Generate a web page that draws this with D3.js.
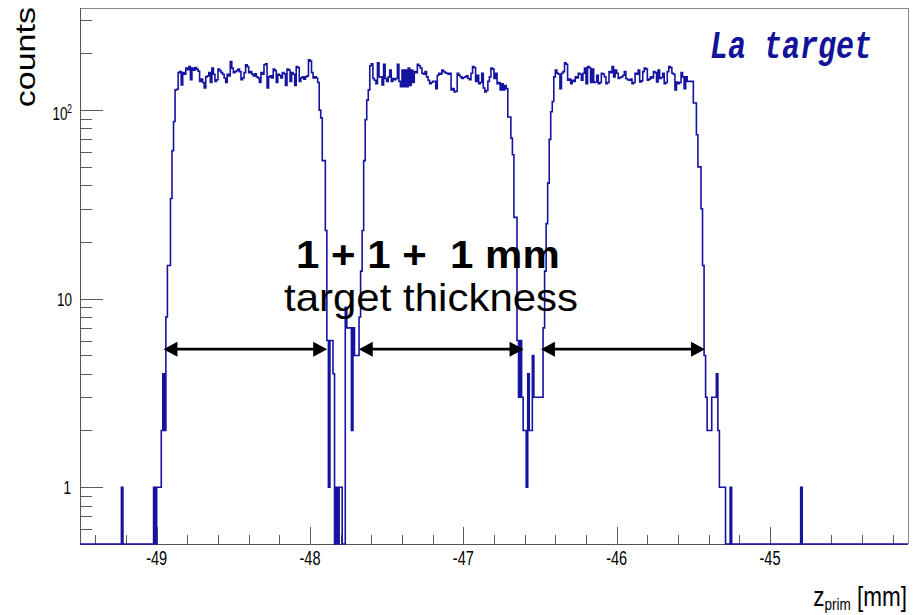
<!DOCTYPE html>
<html>
<head>
<meta charset="utf-8">
<script src="https://cdn.jsdelivr.net/npm/d3@7"></script>
<style>
  html, body { margin: 0; padding: 0; background: #ffffff; }
  svg { display: block; }
  text { font-family: "Liberation Sans", Arial, Helvetica, sans-serif; }
  text.mono { font-family: "Liberation Mono", "DejaVu Sans Mono", "Courier New", monospace; }
</style>
</head>
<body>
<svg id="chart" width="913" height="615"></svg>
<script>
// ---- histogram definition: z_prim, 0.01 mm bins starting at -49.5 mm ----
const binLow = -49.5;
const binWidth = 0.01;

// counts per bin, split by region along z
const leadCounts = [
  0,0,0,0,0,0,0,0,0,0, 0,0,0,0,0,0,0,0,0,0, 0,0,0,0,0,0,0,
  1,
  0,0,0,0,0,0,0,0,0,0, 0,0,0,0,0,0,0,0,0,0,
  1,0,1,1,1,2,4,2,8,15,15,34,61,87,128
];
const target1Counts = [
  129,158,160,136,158,155,167,164,170,145,167,163,168,165,161,142,146,140,131,150,
  152,158,140,167,155,142,145,165,162,158,155,148,140,155,152,181,167,158,160,162,
  165,160,145,148,158,174,170,158,160,155,152,156,150,148,140,158,155,174,176,131,
  150,152,148,165,162,140,155,153,148,158,156,135,165,163,142,158,155,135,170,168,
  142,148,150,146,150,152,185,182,158,148,150,148,140
];
const gap1Counts = [
  100,91,54,54,23,6,1,6,6,4,0,1,0,1,1,0,0,9,7,7,7,2,7,5,5,5,8,14,23,54,89,113,128
];
const target2Counts = [
  172,176,147,144,138,178,150,150,136,175,147,142,150,163,142,147,145,147,175,142,
  133,163,133,163,133,167,135,163,140,160,158,175,172,167,157,155,160,150,144,138,
  140,142,142,130,153,157,155,163,160,158,157,155,157,128,130,125,126,157,153,150,
  147,149,150,152,147,145,157,170,168,142,153,138,140,157,131,125,127,142,150,167,
  165,147,157,138,140,128,138,128,135,130
];
const gap2Counts = [
  92,92,71,58,27,27,6,3,6,3,2,2,1,4,2,2,5,3,3,3,3,3,3,7,14,25,41,70,98,111
];
const target3Counts = [
  150,163,157,155,130,157,160,178,175,144,146,138,144,142,150,148,157,155,144,157,
  167,138,170,168,140,165,140,141,153,138,140,157,155,150,138,140,160,158,170,150,
  163,157,147,149,150,153,160,147,145,144,146,138,140,157,155,163,141,143,160,167,
  165,144,146,150,148,160,158,141,163,147,149,157,138,140,160,170,168,157,155,128,
  141,138,140,158,150,130,150,142,142,142,142
];
const tailCounts = [
  109,109,74,50,50,30,15,5,3,2,2,2,3,3,3,4,2,1,1,1,1,0,0,0,1,
  0,0,0,0,0,0,0,0,0,0, 0,0,0,0,0,0,0,0,0,0, 0,0,0,0,0,0,0,0,0,0, 0,0,0,0,0,0,0,0,0,0, 0,0,0,0,0,
  1,
  0,0,0,0,0,0,0,0,0,0, 0,0,0,0,0,0,0,0,0,0, 0,0,0,0,0,0,0,0,0,0,
  0,0,0,0,0,0,0,0,0,0, 0,0,0,0,0,0,0,0,0,0, 0,0,0,0,0,0,0,0,0,0, 0,0,0,0,0,0,0,0,0
];

// axes
const xDomain = [-49.5, -44.1];
const yDomain = [0.5, 348];
const xMajorTicks = [-49, -48, -47, -46, -45];
const xMinorTicks = [-49.4,-49.2,-48.8,-48.6,-48.4,-48.2,-47.8,-47.6,-47.4,-47.2,
                     -46.8,-46.6,-46.4,-46.2,-45.8,-45.6,-45.4,-45.2,-44.8,-44.6,-44.4,-44.2];
const yMajorTicks = [1, 10, 100];
const yMinorTicks = [0.6,0.7,0.8,0.9,2,3,4,5,6,7,8,9,20,30,40,50,60,70,80,90,200,300];

// thickness markers: [from, to] in mm at a common count level
const arrowSpans = [[-48.956, -47.888], [-47.682, -46.607], [-46.494, -45.424]];
const arrowLevel = 5.4;

// ---- drawing ----
const svg = d3.select("#chart");
const frame = { left: 80, right: 908, top: 8, bottom: 544 };

const x = d3.scaleLinear().domain(xDomain).range([frame.left, frame.right]);
const y = d3.scaleLog().domain(yDomain).range([frame.bottom, frame.top]);

const counts = [].concat(leadCounts, target1Counts, gap1Counts, target2Counts,
                         gap2Counts, target3Counts, tailCounts);

svg.append("defs").append("clipPath").attr("id", "plotClip")
  .append("rect")
  .attr("x", frame.left).attr("y", frame.top - 1)
  .attr("width", frame.right - frame.left).attr("height", frame.bottom - frame.top + 2);

// ticks (drawn inward like the ROOT frame)
function tickAxis(axis, transform) {
  const g = svg.append("g").attr("transform", transform).call(axis);
  g.select(".domain").remove();
  g.selectAll(".tick line").attr("stroke", "#5c5c5c").attr("stroke-width", 1)
    .attr("shape-rendering", "crispEdges");
  g.selectAll(".tick text").remove();
  return g;
}
tickAxis(d3.axisBottom(x).tickValues(xMajorTicks).tickSize(-17), `translate(0,${frame.bottom})`);
tickAxis(d3.axisBottom(x).tickValues(xMinorTicks).tickSize(-9), `translate(0,${frame.bottom})`);
tickAxis(d3.axisLeft(y).tickValues(yMajorTicks).tickSize(-23), `translate(${frame.left},0)`);
tickAxis(d3.axisLeft(y).tickValues(yMinorTicks).tickSize(-12), `translate(${frame.left},0)`);

// frame
svg.append("path")
  .attr("d", `M${frame.left},${frame.top}H${frame.right}V${frame.bottom}`)
  .attr("fill", "none").attr("stroke", "#8a8a8a").attr("stroke-width", 1)
  .attr("shape-rendering", "crispEdges");
svg.append("path")
  .attr("d", `M${frame.left},${frame.top}V${frame.bottom}H${frame.right}`)
  .attr("fill", "none").attr("stroke", "#555555").attr("stroke-width", 1)
  .attr("shape-rendering", "crispEdges");

// histogram outline (empty bins sit on the lower frame edge)
const pts = counts.map((c, i) => [binLow + i * binWidth, c]);
pts.push([binLow + counts.length * binWidth, counts[counts.length - 1]]);
const histLine = d3.line()
  .x(d => x(d[0]))
  .y(d => d[1] > 0 ? y(d[1]) : frame.bottom)
  .curve(d3.curveStepAfter);
svg.append("path")
  .attr("clip-path", "url(#plotClip)")
  .attr("d", histLine(pts))
  .attr("fill", "none")
  .attr("stroke", "#1414a0")
  .attr("stroke-width", 1.6);

// text helper with independent vertical stretch
function label(str, px, py, size, sy, anchor, attrs = {}) {
  const t = svg.append("text")
    .attr("transform", `translate(${px},${py}) scale(1,${sy})`)
    .attr("font-size", size)
    .attr("text-anchor", anchor)
    .attr("fill", "#000")
    .text(str);
  Object.entries(attrs).forEach(([k, v]) => t.attr(k, v));
  return t;
}

// x tick labels
xMajorTicks.forEach(v => label(String(v), x(v), 565, 14.5, 1.42, "middle"));

// y tick labels
label("1", 71, y(1) + 6.3, 13.5, 1.38, "end");
label("10", 72, y(10) + 7, 13.5, 1.38, "end");
label("10", 67.5, y(100) + 9.5, 13.5, 1.38, "end");
label("2", 72, y(100) + 3, 9, 1.38, "end");

// axis titles
const xt = svg.append("text")
  .attr("transform", "translate(907,606) scale(1,1.25)")
  .attr("font-size", 22.5).attr("text-anchor", "end").attr("fill", "#000");
xt.append("tspan").text("z");
xt.append("tspan").attr("font-size", 13.5).attr("dy", 2.8).text("prim");
xt.append("tspan").attr("dy", -2.8).text(" [mm]");

svg.append("text")
  .attr("transform", "translate(35,7) rotate(-90) scale(1.26,1)")
  .attr("font-size", 27).attr("text-anchor", "end").attr("fill", "#000")
  .text("counts");

// target label
svg.append("text")
  .attr("class", "mono")
  .attr("transform", "translate(710,58) scale(1,1.28)")
  .attr("font-size", 30).attr("font-weight", "bold").attr("font-style", "italic")
  .attr("fill", "#12129a")
  .text("La target");

// thickness arrows
const head = 14, half = 7.5;
arrowSpans.forEach(([a, b]) => {
  const x1 = x(a), x2 = x(b), yy = y(arrowLevel);
  svg.append("line")
    .attr("x1", x1 + head - 1).attr("x2", x2 - head + 1)
    .attr("y1", yy).attr("y2", yy)
    .attr("stroke", "#000").attr("stroke-width", 2.6);
  svg.append("path")
    .attr("d", `M${x1},${yy}L${x1 + head},${yy - half}L${x1 + head},${yy + half}Z`)
    .attr("fill", "#000");
  svg.append("path")
    .attr("d", `M${x2},${yy}L${x2 - head},${yy - half}L${x2 - head},${yy + half}Z`)
    .attr("fill", "#000");
});

// thickness annotation
label("1 + 1 +  1 mm", 296, 268, 42, 0.94, "start",
      { "font-weight": "bold", "style": "white-space: pre" });
label("target thickness", 284, 311, 42, 0.94, "start");
</script>
</body>
</html>
